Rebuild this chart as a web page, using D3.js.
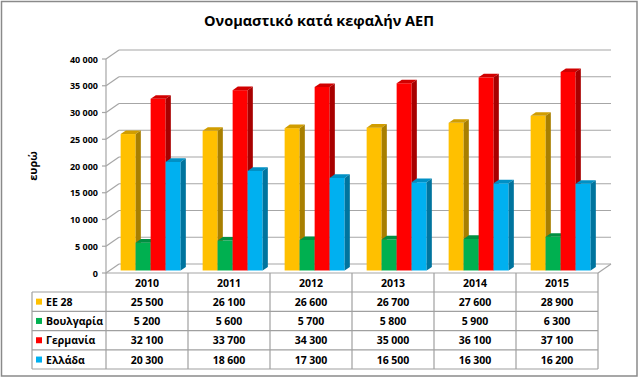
<!DOCTYPE html>
<html><head><meta charset="utf-8">
<script src="https://cdn.jsdelivr.net/npm/d3@7"></script>
<style>
body{margin:0;background:#fff;}
svg{display:block;font-family:"Open Sans",sans-serif;}
</style></head><body>
<svg id="c" width="639" height="378"></svg>
<script>
const title = "Ονομαστικό κατά κεφαλήν ΑΕΠ";
const yTitle = "ευρώ";
const years = ["2010","2011","2012","2013","2014","2015"];
const seriesNames = ["ΕΕ 28","Βουλγαρία","Γερμανία","Ελλάδα"];
const ee28 = [25500,26100,26600,26700,27600,28900];
const bulgaria = [5200,5600,5700,5800,5900,6300];
const germany = [32100,33700,34300,35000,36100,37100];
const greece = [20300,18600,17300,16500,16300,16200];
const colors = ["#FFC000","#00B050","#FF0000","#00B0F0"];
const yTicks = [0,5000,10000,15000,20000,25000,30000,35000,40000];

const seriesValues = [ee28, bulgaria, germany, greece];
const svg = d3.select("#c");
const W=639,H=378;

// frame
svg.append("rect").attr("x",1.5).attr("y",1.5).attr("width",W-3.5).attr("height",H-3.5)
  .attr("fill","#fff").attr("stroke","#8a8a8a").attr("stroke-width",1.5);

// title
svg.append("text").attr("x",319).attr("y",26).attr("text-anchor","middle")
  .attr("font-size",14.5).attr("font-weight","bold").attr("fill","#000").text(title);

// geometry
const x0=106, x1=598, yBase=273, yTop=59;
const D={x:13,y:-9};
const x = d3.scaleBand().domain(years).range([x0,x1]);
const y = d3.scaleLinear().domain([0,40000]).range([yBase,yTop]);
const fmt = v => d3.format(",")(v).replace(/,/g," ");

const grid = svg.append("g").attr("stroke","#a6a6a6").attr("stroke-width",1.2).attr("fill","none");
// back wall gridlines + left wall diagonals
yTicks.forEach(t=>{
  const yy=y(t);
  grid.append("line").attr("x1",x0+D.x).attr("x2",x1+D.x).attr("y1",yy+D.y).attr("y2",yy+D.y);
  grid.append("line").attr("x1",x0).attr("x2",x0+D.x).attr("y1",yy).attr("y2",yy+D.y);
  grid.append("line").attr("x1",x0-4).attr("x2",x0).attr("y1",yy).attr("y2",yy);
});
// front axis line
grid.append("line").attr("x1",x0).attr("x2",x0).attr("y1",y(40000)).attr("y2",yBase);
// floor right diagonal & front edge
grid.append("line").attr("x1",x1).attr("x2",x1+D.x).attr("y1",yBase).attr("y2",yBase+D.y);
grid.append("line").attr("x1",x0).attr("x2",x1).attr("y1",yBase).attr("y2",yBase);

// y tick labels
svg.append("g").selectAll("text").data(yTicks).join("text")
  .attr("x",x0-8).attr("y",d=>y(d)+3.5).attr("text-anchor","end")
  .attr("font-size",9).attr("font-weight","bold").attr("fill","#000").text(fmt);

// y title
svg.append("text").attr("transform","translate(37,166) rotate(-90)").attr("text-anchor","middle")
  .attr("font-size",11).attr("font-weight","bold").attr("fill","#000").text(yTitle);

// bars
const f0=0.28, f1=0.68;
const barW = 15;
const inner = d3.scaleBand().domain(d3.range(4)).range([0,barW*4]);
const darker=(c,k)=>{const h=d3.color(c);return d3.rgb(h.r*k,h.g*k,h.b*k).toString();};
const bars = svg.append("g");
years.forEach((yr,i)=>{
  const gx = x(yr)+(x.bandwidth()-barW*4)/2;
  seriesValues.forEach((vals,s)=>{
    const v=vals[i];
    const bx = gx+inner(s)+D.x*f0, bxr=bx+barW;
    const by = y(v)+D.y*f0, bb = yBase+D.y*f0;
    const dx=D.x*(f1-f0), dy=D.y*(f1-f0);
    const c=colors[s];
    bars.append("rect").attr("x",bx).attr("y",by).attr("width",barW).attr("height",bb-by).attr("fill",c);
    bars.append("path").attr("d",`M${bx},${by}L${bx+dx},${by+dy}L${bxr+dx},${by+dy}L${bxr},${by}Z`).attr("fill",darker(c,0.82));
    bars.append("path").attr("d",`M${bxr},${by}L${bxr+dx},${by+dy}L${bxr+dx},${bb+dy}L${bxr},${bb}Z`).attr("fill",darker(c,0.66));
  });
});

// data table
const rowTop=[292,311.3,330.6,349.9], rowH=19.3, tLeft=32, tBottom=369;
const tg = svg.append("g").attr("stroke","#a0a0a0").attr("stroke-width",1.2);
rowTop.concat([tBottom]).forEach(ry=>tg.append("line").attr("x1",tLeft).attr("x2",x1).attr("y1",ry).attr("y2",ry));
tg.append("line").attr("x1",tLeft).attr("x2",tLeft).attr("y1",rowTop[0]).attr("y2",tBottom);
years.forEach(yr=>tg.append("line").attr("x1",x(yr)).attr("x2",x(yr)).attr("y1",yBase).attr("y2",tBottom));
tg.append("line").attr("x1",x1).attr("x2",x1).attr("y1",yBase).attr("y2",tBottom);

const tt = svg.append("g").attr("font-size",10.5).attr("font-weight","bold").attr("fill","#000");
years.forEach(yr=>{
  tt.append("text").attr("x",x(yr)+x.bandwidth()/2).attr("y",yBase+13.5).attr("text-anchor","middle").text(yr);
});
seriesNames.forEach((n,s)=>{
  const cy=rowTop[s]+rowH/2;
  svg.append("rect").attr("x",36).attr("y",cy-3).attr("width",6).attr("height",6).attr("fill",colors[s]);
  tt.append("text").attr("x",46).attr("y",cy+4).text(n);
  years.forEach((yr,i)=>{
    tt.append("text").attr("x",x(yr)+x.bandwidth()/2).attr("y",cy+4).attr("text-anchor","middle").text(fmt(seriesValues[s][i]));
  });
});
</script>
</body></html>
